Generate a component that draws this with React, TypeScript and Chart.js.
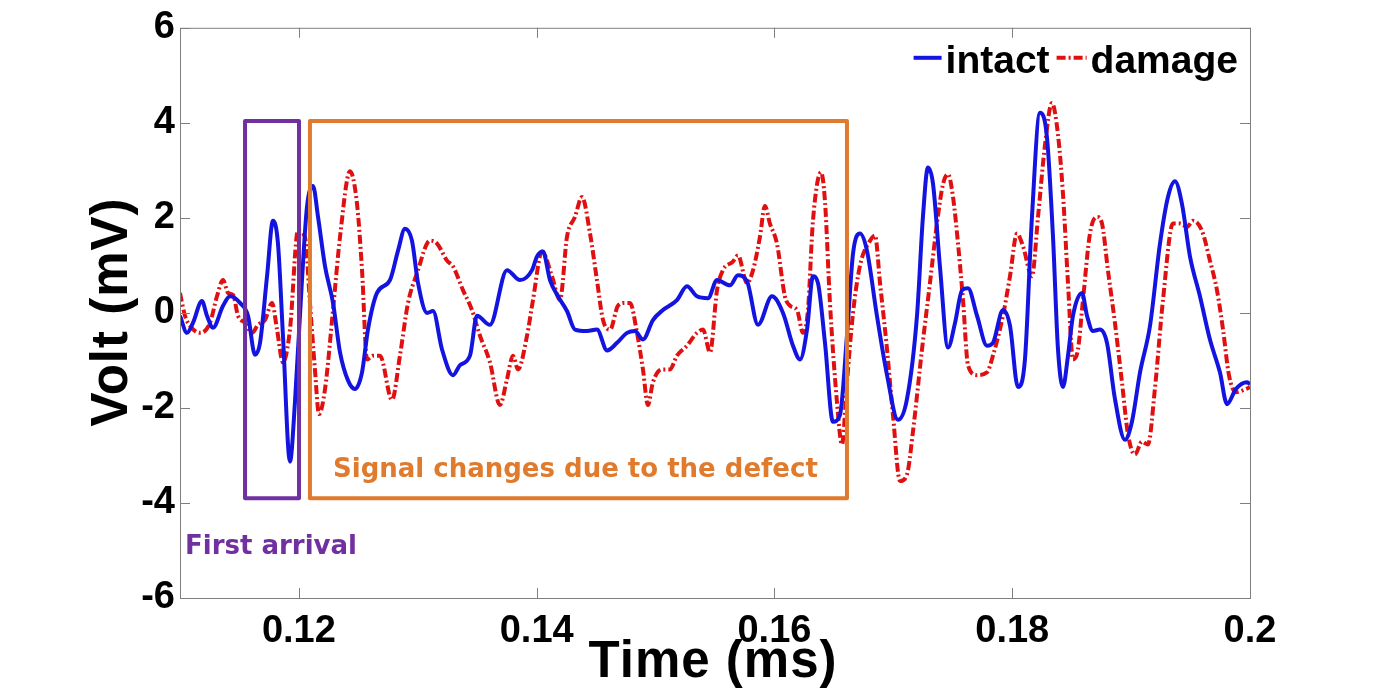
import React, { useEffect, useRef } from 'react';
import { Chart, registerables } from 'chart.js';

Chart.register(...registerables);

// ---- data (time in ms, voltage in mV) ----
const intactTime = [
  0.11000, 0.11059, 0.11109, 0.11185, 0.11227, 0.11278, 0.11362, 0.11421, 0.11505, 0.11572,
  0.11631, 0.11673, 0.11732, 0.11782, 0.11824, 0.11866, 0.11925, 0.11967, 0.12026, 0.12068,
  0.12119, 0.12161, 0.12220, 0.12287, 0.12346, 0.12413, 0.12472, 0.12531, 0.12581, 0.12657,
  0.12766, 0.12834, 0.12892, 0.12951, 0.13002, 0.13078, 0.13128, 0.13204, 0.13296, 0.13355,
  0.13439, 0.13498, 0.13607, 0.13750, 0.13860, 0.13961, 0.14003, 0.14053, 0.14112, 0.14179,
  0.14255, 0.14322, 0.14423, 0.14507, 0.14592, 0.14676, 0.14760, 0.14827, 0.14894, 0.14978,
  0.15062, 0.15180, 0.15264, 0.15348, 0.15441, 0.15517, 0.15626, 0.15693, 0.15769, 0.15862,
  0.15979, 0.16072, 0.16156, 0.16215, 0.16274, 0.16324, 0.16366, 0.16425, 0.16492, 0.16551,
  0.16610, 0.16661, 0.16720, 0.16778, 0.16862, 0.16947, 0.17039, 0.17115, 0.17199, 0.17249,
  0.17291, 0.17334, 0.17392, 0.17460, 0.17519, 0.17578, 0.17628, 0.17704, 0.17788, 0.17838,
  0.17922, 0.17981, 0.18048, 0.18107, 0.18166, 0.18233, 0.18292, 0.18343, 0.18385, 0.18427,
  0.18469, 0.18511, 0.18587, 0.18629, 0.18679, 0.18738, 0.18797, 0.18864, 0.18948, 0.19007,
  0.19075, 0.19159, 0.19243, 0.19310, 0.19369, 0.19428, 0.19495, 0.19579, 0.19663, 0.19747,
  0.19807, 0.19882, 0.19975, 0.20000,
];
const intactVolt = [
  -0.06, -0.42, -0.21, 0.25, -0.06, -0.31, 0.15, 0.35, 0.21, -0.06,
  -0.88, -0.63, 0.77, 1.94, 1.46, -0.48, -3.13, -1.88, 0.69, 2.23,
  2.67, 2.02, 0.98, 0.21, -0.83, -1.42, -1.60, -1.25, -0.35, 0.42,
  0.69, 1.31, 1.77, 1.52, 0.63, 0.00, 0.04, -0.77, -1.31, -1.10,
  -0.90, -0.06, -0.25, 0.90, 0.69, 0.90, 1.19, 1.29, 0.69, 0.35,
  0.04, -0.35, -0.38, -0.35, -0.79, -0.63, -0.42, -0.38, -0.56, -0.15,
  0.06, 0.27, 0.56, 0.35, 0.31, 0.69, 0.58, 0.79, 0.67, -0.25,
  0.35, 0.00, -0.69, -0.98, -0.35, 0.77, 0.63, -0.63, -2.29, -2.15,
  -0.48, 1.25, 1.67, 1.31, -0.06, -1.31, -2.25, -1.81, -0.06, 2.02,
  3.06, 2.71, 0.98, -0.73, -0.21, 0.48, 0.52, -0.06, -0.69, -0.63,
  0.06, -0.27, -1.56, -0.98, 2.02, 4.21, 3.70, 1.60, -0.77, -1.56,
  -0.90, -0.06, 0.42, -0.06, -0.38, -0.35, -0.63, -1.81, -2.67, -2.29,
  -1.25, -0.27, 1.46, 2.44, 2.77, 2.29, 1.19, 0.35, -0.56, -1.25,
  -1.92, -1.60, -1.46, -1.50,
];
const damageTime = [
  0.11000, 0.11042, 0.11084, 0.11168, 0.11252, 0.11311, 0.11362, 0.11404, 0.11446, 0.11488,
  0.11547, 0.11606, 0.11656, 0.11715, 0.11774, 0.11816, 0.11866, 0.11925, 0.11992, 0.12051,
  0.12093, 0.12135, 0.12169, 0.12220, 0.12287, 0.12346, 0.12430, 0.12489, 0.12531, 0.12573,
  0.12623, 0.12682, 0.12783, 0.12850, 0.12918, 0.12993, 0.13103, 0.13162, 0.13246, 0.13296,
  0.13380, 0.13456, 0.13523, 0.13607, 0.13691, 0.13750, 0.13801, 0.13843, 0.13919, 0.13969,
  0.14045, 0.14129, 0.14196, 0.14255, 0.14322, 0.14381, 0.14449, 0.14507, 0.14558, 0.14617,
  0.14684, 0.14743, 0.14785, 0.14844, 0.14894, 0.14936, 0.14978, 0.15054, 0.15121, 0.15180,
  0.15264, 0.15348, 0.15399, 0.15458, 0.15517, 0.15567, 0.15651, 0.15693, 0.15769, 0.15820,
  0.15878, 0.15920, 0.15962, 0.16021, 0.16088, 0.16131, 0.16190, 0.16240, 0.16282, 0.16324,
  0.16392, 0.16425, 0.16467, 0.16526, 0.16568, 0.16610, 0.16661, 0.16720, 0.16804, 0.16846,
  0.16888, 0.16947, 0.16997, 0.17056, 0.17115, 0.17165, 0.17241, 0.17308, 0.17367, 0.17418,
  0.17460, 0.17502, 0.17544, 0.17586, 0.17628, 0.17704, 0.17788, 0.17838, 0.17922, 0.17981,
  0.18040, 0.18091, 0.18166, 0.18217, 0.18276, 0.18334, 0.18385, 0.18427, 0.18469, 0.18511,
  0.18553, 0.18595, 0.18654, 0.18713, 0.18755, 0.18805, 0.18864, 0.18923, 0.18974, 0.19032,
  0.19091, 0.19142, 0.19200, 0.19268, 0.19352, 0.19411, 0.19470, 0.19520, 0.19596, 0.19663,
  0.19722, 0.19773, 0.19823, 0.19882, 0.19966, 0.20000,
];
const damageVolt = [
  0.42, -0.06, -0.27, -0.42, -0.21, 0.35, 0.69, 0.42, 0.38, -0.06,
  -0.21, -0.42, -0.25, -0.15, 0.21, -0.35, -1.04, -0.35, 1.73, 1.60,
  0.21, -1.19, -2.13, -1.60, 0.06, 1.60, 2.98, 2.29, 0.90, -0.98,
  -0.90, -0.90, -1.83, -0.90, 0.21, 0.83, 1.52, 1.46, 1.10, 0.98,
  0.48, 0.06, -0.48, -1.04, -1.94, -1.40, -0.90, -1.19, -0.48, 0.27,
  1.29, 0.77, 0.27, 1.60, 2.02, 2.44, 1.67, 0.69, -0.15, -0.35,
  0.15, 0.21, 0.21, -0.42, -1.19, -1.94, -1.46, -1.19, -1.19, -0.90,
  -0.69, -0.42, -0.35, -0.83, 0.48, 0.90, 1.08, 1.21, 0.63, 0.90,
  1.60, 2.25, 1.88, 1.46, 0.35, 0.15, 0.06, -0.42, 0.06, 1.94,
  2.96, 2.35, 0.21, -1.88, -2.77, -1.46, 0.00, 1.00, 1.52, 1.63,
  0.63, -0.77, -2.15, -3.54, -3.40, -2.50, -0.77, 0.63, 1.88, 2.71,
  2.92, 2.44, 1.46, 0.27, -1.10, -1.31, -1.25, -0.90, -0.06, 0.77,
  1.67, 1.40, 0.77, 2.02, 3.54, 4.42, 3.75, 2.50, 0.63, -0.98,
  -0.77, 0.27, 1.67, 2.02, 1.88, 0.90, -0.21, -1.46, -2.56, -2.98,
  -2.71, -2.77, -1.60, 0.27, 1.88, 1.88, 1.81, 1.94, 1.73, 1.10,
  0.48, -0.35, -1.31, -1.67, -1.60, -1.56,
];

const seriesNames = ['intact', 'damage'];
const xTickValues = [0.12, 0.14, 0.16, 0.18, 0.2];
const xTickLabels = ['0.12', '0.14', '0.16', '0.18', '0.2'];
const yTickValues = [-6, -4, -2, 0, 2, 4, 6];
const yTickLabels = ['-6', '-4', '-2', '0', '2', '4', '6'];
const xTitle = 'Time (ms)';
const yTitle = 'Volt (mV)';

// annotation boxes: [tStart, tEnd, vLow, vHigh]
const firstArrivalBox = [0.11547, 0.12001, -3.9, 4.04];
const defectBox = [0.12093, 0.16610, -3.9, 4.04];
const firstArrivalLabel = 'First arrival';
const firstArrivalLabelAt = [0.11042, -4.94];
const defectLabel = 'Signal changes due to the defect';
const defectLabelAt = [0.12287, -3.31];

const BLUE = '#1414e0';
const RED = '#e01010';
const PURPLE = '#7030a0';
const ORANGE = '#e07a2c';
const ARIAL = '"Liberation Sans", Arial, sans-serif';
const VERDANA = '"DejaVu Sans", Verdana, sans-serif';

const overlayPlugin = {
  id: 'overlay',
  afterDraw(chart: any) {
    const { ctx, chartArea: a, scales } = chart;
    const xs = scales.x;
    const ys = scales.y;
    ctx.save();

    // axes frame
    ctx.strokeStyle = '#7f7f7f';
    ctx.lineWidth = 1;
    ctx.strokeRect(a.left + 0.5, a.top + 0.5, a.right - a.left, a.bottom - a.top);
    const tl = 10;
    ctx.beginPath();
    xTickValues.forEach((v) => {
      const px = Math.round(xs.getPixelForValue(v)) + 0.5;
      ctx.moveTo(px, a.bottom);
      ctx.lineTo(px, a.bottom - tl);
      ctx.moveTo(px, a.top);
      ctx.lineTo(px, a.top + tl);
    });
    yTickValues.forEach((v) => {
      const py = Math.round(ys.getPixelForValue(v)) + 0.5;
      ctx.moveTo(a.left, py);
      ctx.lineTo(a.left + tl, py);
      ctx.moveTo(a.right, py);
      ctx.lineTo(a.right - tl, py);
    });
    ctx.stroke();

    // annotation boxes
    const drawBox = (b: number[], color: string) => {
      const x1 = xs.getPixelForValue(b[0]);
      const x2 = xs.getPixelForValue(b[1]);
      const y1 = ys.getPixelForValue(b[3]);
      const y2 = ys.getPixelForValue(b[2]);
      ctx.strokeStyle = color;
      ctx.lineWidth = 4;
      ctx.lineJoin = 'round';
      ctx.strokeRect(x1, y1, x2 - x1, y2 - y1);
    };
    drawBox(firstArrivalBox, PURPLE);
    drawBox(defectBox, ORANGE);

    ctx.textBaseline = 'middle';
    ctx.textAlign = 'left';
    ctx.font = `bold 26px ${VERDANA}`;
    ctx.fillStyle = PURPLE;
    ctx.fillText(firstArrivalLabel, xs.getPixelForValue(firstArrivalLabelAt[0]), ys.getPixelForValue(firstArrivalLabelAt[1]));
    ctx.fillStyle = ORANGE;
    ctx.fillText(defectLabel, xs.getPixelForValue(defectLabelAt[0]), ys.getPixelForValue(defectLabelAt[1]));

    // legend (inside, top right)
    ctx.font = `bold 39px ${ARIAL}`;
    ctx.fillStyle = '#000';
    ctx.textAlign = 'left';
    const ly = a.top + 34;
    const x = a.right - 12;
    const wD = ctx.measureText(seriesNames[1]).width;
    const wI = ctx.measureText(seriesNames[0]).width;
    const dStart = x - wD;
    ctx.fillText(seriesNames[1], dStart, ly);
    ctx.strokeStyle = RED;
    ctx.lineWidth = 4;
    ctx.setLineDash([9, 3, 2, 3]);
    ctx.beginPath();
    ctx.moveTo(dStart - 34, ly - 4);
    ctx.lineTo(dStart - 4, ly - 4);
    ctx.stroke();
    ctx.setLineDash([]);
    const iStart = dStart - 41 - wI;
    ctx.fillText(seriesNames[0], iStart, ly);
    ctx.strokeStyle = BLUE;
    ctx.beginPath();
    ctx.moveTo(iStart - 32, ly - 4);
    ctx.lineTo(iStart - 4, ly - 4);
    ctx.stroke();

    // axis titles
    ctx.fillStyle = '#000';
    ctx.font = `bold 51px ${ARIAL}`;
    ctx.textAlign = 'center';
    ctx.textBaseline = 'middle';
    (ctx as any).letterSpacing = '1px';
    ctx.fillText(xTitle, 713, 663);
    ctx.save();
    ctx.translate(113, 312);
    ctx.rotate(-Math.PI / 2);
    ctx.fillText(yTitle, 0, 0);
    ctx.restore();
    (ctx as any).letterSpacing = '0px';

    ctx.restore();
  },
};

export default function App() {
  const canvasRef = useRef<HTMLCanvasElement | null>(null);

  useEffect(() => {
    const canvas = canvasRef.current;
    if (!canvas) return;
    const chart = new Chart(canvas, {
      type: 'line',
      data: {
        datasets: [
          {
            label: seriesNames[0],
            data: intactTime.map((t, i) => ({ x: t, y: intactVolt[i] })),
            borderColor: BLUE,
            borderWidth: 4,
            pointRadius: 0,
            cubicInterpolationMode: 'monotone',
            fill: false,
          },
          {
            label: seriesNames[1],
            data: damageTime.map((t, i) => ({ x: t, y: damageVolt[i] })),
            borderColor: RED,
            borderWidth: 4,
            borderDash: [9, 3, 2, 3],
            pointRadius: 0,
            cubicInterpolationMode: 'monotone',
            fill: false,
          },
        ],
      },
      options: {
        animation: false,
        responsive: true,
        maintainAspectRatio: false,
        layout: { padding: { left: 0, right: 131, top: 22, bottom: 0 } },
        plugins: {
          legend: { display: false },
          tooltip: { enabled: false },
          title: { display: false },
        },
        scales: {
          x: {
            type: 'linear',
            min: 0.11,
            max: 0.2,
            grid: { display: false, drawTicks: false },
            border: { display: false },
            afterBuildTicks: (s: any) => {
              s.ticks = xTickValues.map((v) => ({ value: v }));
            },
            afterFit: (s: any) => {
              s.height = 94;
            },
            ticks: {
              padding: 11,
              maxRotation: 0,
              autoSkip: false,
              color: '#000',
              font: { family: ARIAL, weight: 'bold', size: 38 },
              callback: (v: any) => {
                const i = xTickValues.findIndex((t) => Math.abs(t - v) < 1e-9);
                return i >= 0 ? xTickLabels[i] : '';
              },
            },
          },
          y: {
            type: 'linear',
            min: -6,
            max: 6,
            grid: { display: false, drawTicks: false },
            border: { display: false },
            afterBuildTicks: (s: any) => {
              s.ticks = yTickValues.map((v) => ({ value: v }));
            },
            afterFit: (s: any) => {
              s.width = 180;
            },
            ticks: {
              padding: 5,
              autoSkip: false,
              color: '#000',
              font: { family: ARIAL, weight: 'bold', size: 38 },
              callback: (v: any) => {
                const i = yTickValues.findIndex((t) => Math.abs(t - v) < 1e-9);
                return i >= 0 ? yTickLabels[i] : '';
              },
            },
          },
        },
      },
      plugins: [overlayPlugin],
    } as any);
    return () => chart.destroy();
  }, []);

  return (
    <div style={{ position: 'fixed', left: 0, top: 0, width: 1381, height: 692, background: '#fff' }}>
      <canvas ref={canvasRef} />
    </div>
  );
}
